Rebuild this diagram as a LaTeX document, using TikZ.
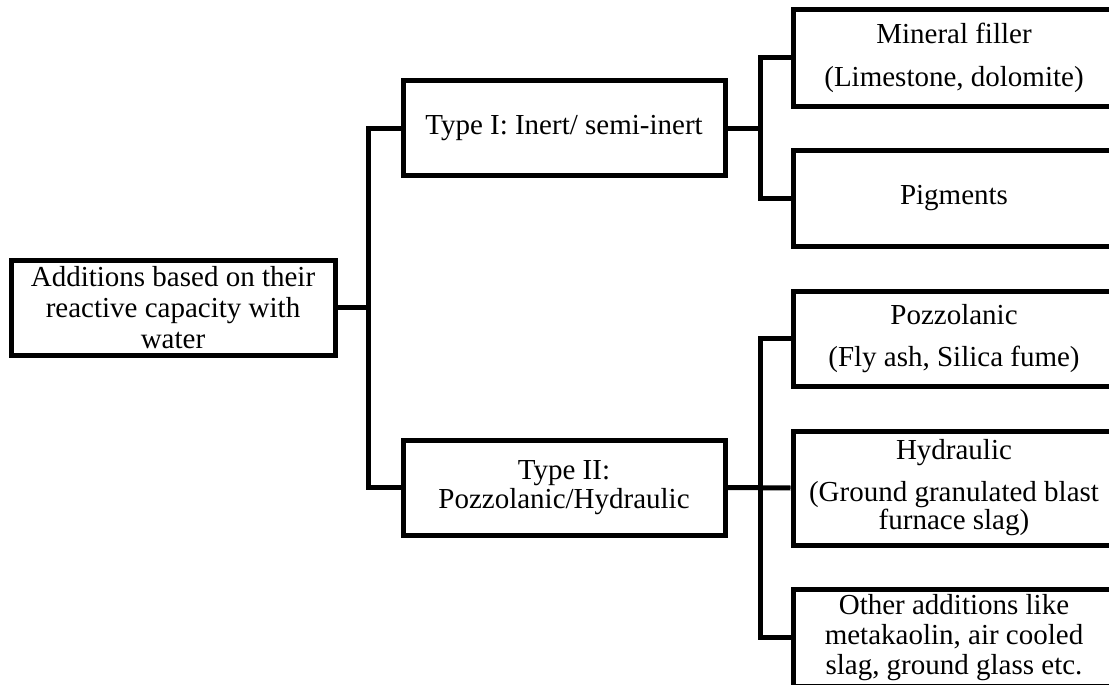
\documentclass[tikz,border=0pt]{standalone}
\usepackage{fontspec}
\setmainfont{Liberation Serif}
\begin{document}
\begin{tikzpicture}[x=1pt,y=-1pt,
  box/.style={draw=black, line width=5pt, fill=white, inner sep=0pt, align=center,
    font=\fontsize{29}{31}\selectfont, minimum width=322pt},
  conn/.style={draw=black, line width=5pt, line join=miter}]
\useasboundingbox (0,0) rectangle (1109,685);
\clip (0,0) rectangle (1109,685);
\fill[white] (0,0) rectangle (1109,685);
\node[box, minimum width=324pt, minimum height=95pt] (root) at (173,307.5)
  {Additions based on their\\reactive capacity with\\water};
\node[box, minimum height=94pt] (t1) at (564,128) {Type I: Inert/ semi-inert};
\node[box, minimum height=95pt] (t2) at (564,487.5) {Type II:\\[-2pt]Pozzolanic/Hydraulic};
\node[box, minimum height=96pt] (min) at (954,58)
  {Mineral filler\\[12pt](Limestone, dolomite)};
\node[box, minimum height=96pt] (pig) at (954,198) {Pigments};
\node[box, minimum height=95pt] (poz) at (954,338.5) {Pozzolanic\\[11pt](Fly ash, Silica fume)};
\node[box, minimum height=114pt] (hyd) at (954,488) {Hydraulic\\[11pt](Ground granulated blast\\[-3pt]furnace slag)};
\node[box, minimum height=97pt] (oth) at (954,637.5) {Other additions like\\[-1pt]metakaolin, air cooled\\[-1pt]slag, ground glass etc.};
\coordinate (k1) at (368,0);
\coordinate (k2) at (760,0);
\draw[conn] (root.east) -- (root.east -| k1);
\draw[conn] (t1.west) -- (t1.west -| k1) -- (t2.west -| k1) -- (t2.west);
\draw[conn] (t1.east) -- (t1.east -| k2);
\draw[conn] (min.west) -- (min.west -| k2) -- (pig.west -| k2) -- (pig.west);
\draw[conn] (t2.east) -- (hyd.west);
\draw[conn] (poz.west) -- (poz.west -| k2) -- (oth.west -| k2) -- (oth.west);
\end{tikzpicture}
\end{document}
